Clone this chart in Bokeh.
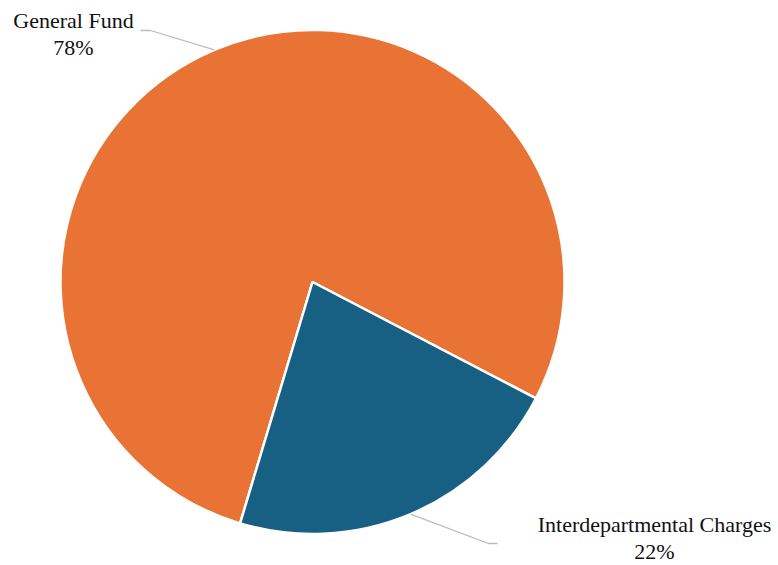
import math
from bokeh.plotting import figure
from bokeh.models import Range1d
from bokeh.embed import file_html
from bokeh.resources import INLINE
from bokeh.core.properties import value

# ---- data ----
categories = ["General Fund", "Interdepartmental Charges"]
shares = [78, 22]
pct_labels = ["78%", "22%"]
colors = ["#E97334", "#176083"]

# ---- layout (page pixels; y converted to data with y_up) ----
W, H = 778, 565
PAGE_H = 565
def yu(y_page):
    return PAGE_H - y_page

CX, CY = 312, yu(281.5)
R = 252
START_DEG = -27.5

# label layout: elbow point, line end, label centre x, baseline of name, baseline of pct
label_layout = [
    dict(elbow=(150, 30), end=(140, 30), tx=73, ty1=19.5, ty2=47),
    dict(elbow=(488, 543), end=(497, 543), tx=654, ty1=524, ty2=551),
]

p = figure(width=W, height=H, x_range=Range1d(0, W), y_range=Range1d(0, H),
           output_backend="svg", toolbar_location=None, min_border=0)
p.axis.visible = False
p.grid.visible = False
p.outline_line_color = None
p.background_fill_color = "white"
p.border_fill_color = "white"

total = sum(shares)
a = math.radians(START_DEG)
starts, ends, mids = [], [], []
for s in shares:
    span = 2 * math.pi * s / total
    starts.append(a)
    ends.append(a + span)
    mids.append(a + span / 2)
    a += span

p.wedge(x=[CX] * len(shares), y=[CY] * len(shares), radius=R,
        start_angle=starts, end_angle=ends, direction="anticlock",
        fill_color=colors, line_color="white", line_width=2.5)

font = value("Liberation Serif")
for i, cat in enumerate(categories):
    lay = label_layout[i]
    mx = CX + R * math.cos(mids[i])
    my = CY + R * math.sin(mids[i])
    ex, ey = lay["elbow"]
    nx, ny = lay["end"]
    p.line([mx, ex, nx], [my, yu(ey), yu(ny)], line_color="#bbbbbb", line_width=1.3)
    p.text(x=[lay["tx"]], y=[yu(lay["ty1"])], text=[cat], text_font=font,
           text_font_size="22px", text_align="center", text_baseline="alphabetic",
           text_color="#111111")
    p.text(x=[lay["tx"]], y=[yu(lay["ty2"])], text=[pct_labels[i]], text_font=font,
           text_font_size="22px", text_align="center", text_baseline="alphabetic",
           text_color="#111111")

open("out.html", "w").write(file_html(p, INLINE))
